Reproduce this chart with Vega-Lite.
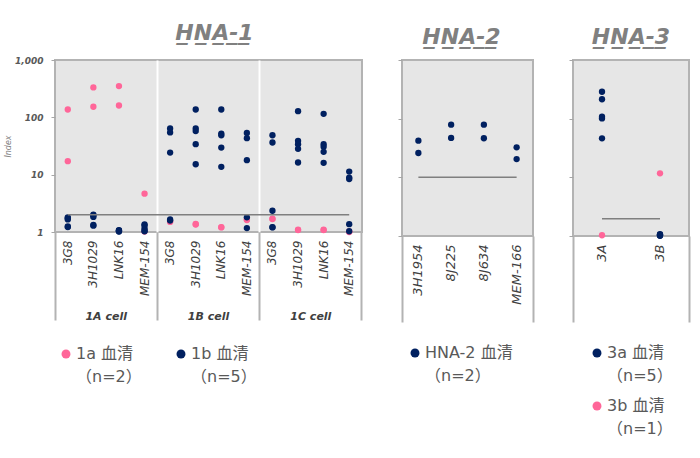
{
  "$schema": "https://vega.github.io/schema/vega-lite/v6.json",
  "padding": {"left": 3, "top": 21, "right": 5, "bottom": 5},
  "autosize": {"type": "pad"},
  "background": "white",
  "bounds": "flush",
  "spacing": 40,
  "config": {
    "view": {"fill": "#e6e6e6", "stroke": "#b3b3b3", "strokeWidth": 2},
    "font": "DejaVu Sans, Noto Sans CJK JP",
    "title": {"font": "DejaVu Sans", "fontSize": 22, "fontStyle": "italic", "fontWeight": "bold", "color": "#808080", "anchor": "middle", "baseline": "alphabetic", "offset": 11},
    "axis": {"labelFont": "DejaVu Sans", "titleFont": "DejaVu Sans", "grid": false, "domain": false, "labelOverlap": false},
    "legend": {"labelFont": "DejaVu Sans, Noto Sans CJK JP", "labelFontSize": 16, "labelColor": "#595959", "labelOffset": 2, "labelLimit": 0, "symbolType": "circle", "symbolSize": 80, "symbolStrokeWidth": 0, "symbolOpacity": 1, "title": null, "orient": "none", "padding": 0}
  },
  "resolve": {"scale": {"x": "independent", "y": "independent", "color": "independent"}, "legend": {"color": "independent"}},
  "datasets": {
    "hna1": [
      {"target": "1A|3G8", "serum": "1a 血清", "index": 137},
      {"target": "1A|3G8", "serum": "1a 血清", "index": 17.2},
      {"target": "1A|3H1029", "serum": "1a 血清", "index": 333},
      {"target": "1A|3H1029", "serum": "1a 血清", "index": 153},
      {"target": "1A|LNK16", "serum": "1a 血清", "index": 351},
      {"target": "1A|LNK16", "serum": "1a 血清", "index": 161},
      {"target": "1A|MEM-154", "serum": "1a 血清", "index": 4.67},
      {"target": "1A|MEM-154", "serum": "1a 血清", "index": 1.02},
      {"target": "1B|3G8", "serum": "1a 血清", "index": 1.55},
      {"target": "1B|3G8", "serum": "1a 血清", "index": 1.5},
      {"target": "1B|3H1029", "serum": "1a 血清", "index": 1.38},
      {"target": "1B|3H1029", "serum": "1a 血清", "index": 1.35},
      {"target": "1B|LNK16", "serum": "1a 血清", "index": 1.22},
      {"target": "1B|LNK16", "serum": "1a 血清", "index": 1.2},
      {"target": "1B|MEM-154", "serum": "1a 血清", "index": 1.66},
      {"target": "1B|MEM-154", "serum": "1a 血清", "index": 1.62},
      {"target": "1C|3G8", "serum": "1a 血清", "index": 1.71},
      {"target": "1C|3G8", "serum": "1a 血清", "index": 1.68},
      {"target": "1C|3H1029", "serum": "1a 血清", "index": 1.1},
      {"target": "1C|3H1029", "serum": "1a 血清", "index": 1.08},
      {"target": "1C|LNK16", "serum": "1a 血清", "index": 1.1},
      {"target": "1C|LNK16", "serum": "1a 血清", "index": 1.08},
      {"target": "1C|MEM-154", "serum": "1a 血清", "index": 1.02},
      {"target": "1C|MEM-154", "serum": "1a 血清", "index": 1.0},
      {"target": "1A|3G8", "serum": "1b 血清", "index": 1.8},
      {"target": "1A|3G8", "serum": "1b 血清", "index": 1.74},
      {"target": "1A|3G8", "serum": "1b 血清", "index": 1.66},
      {"target": "1A|3G8", "serum": "1b 血清", "index": 1.25},
      {"target": "1A|3G8", "serum": "1b 血清", "index": 1.22},
      {"target": "1A|3H1029", "serum": "1b 血清", "index": 2.0},
      {"target": "1A|3H1029", "serum": "1b 血清", "index": 1.94},
      {"target": "1A|3H1029", "serum": "1b 血清", "index": 1.83},
      {"target": "1A|3H1029", "serum": "1b 血清", "index": 1.33},
      {"target": "1A|3H1029", "serum": "1b 血清", "index": 1.29},
      {"target": "1A|LNK16", "serum": "1b 血清", "index": 1.08},
      {"target": "1A|LNK16", "serum": "1b 血清", "index": 1.06},
      {"target": "1A|LNK16", "serum": "1b 血清", "index": 1.05},
      {"target": "1A|LNK16", "serum": "1b 血清", "index": 1.03},
      {"target": "1A|LNK16", "serum": "1b 血清", "index": 1.02},
      {"target": "1A|MEM-154", "serum": "1b 血清", "index": 1.36},
      {"target": "1A|MEM-154", "serum": "1b 血清", "index": 1.3},
      {"target": "1A|MEM-154", "serum": "1b 血清", "index": 1.16},
      {"target": "1A|MEM-154", "serum": "1b 血清", "index": 1.05},
      {"target": "1A|MEM-154", "serum": "1b 血清", "index": 1.03},
      {"target": "1B|3G8", "serum": "1b 血清", "index": 64},
      {"target": "1B|3G8", "serum": "1b 血清", "index": 54.5},
      {"target": "1B|3G8", "serum": "1b 血清", "index": 24.3},
      {"target": "1B|3G8", "serum": "1b 血清", "index": 1.66},
      {"target": "1B|3G8", "serum": "1b 血清", "index": 1.58},
      {"target": "1B|3H1029", "serum": "1b 血清", "index": 137},
      {"target": "1B|3H1029", "serum": "1b 血清", "index": 64},
      {"target": "1B|3H1029", "serum": "1b 血清", "index": 57.5},
      {"target": "1B|3H1029", "serum": "1b 血清", "index": 34},
      {"target": "1B|3H1029", "serum": "1b 血清", "index": 15.2},
      {"target": "1B|LNK16", "serum": "1b 血清", "index": 137},
      {"target": "1B|LNK16", "serum": "1b 血清", "index": 52},
      {"target": "1B|LNK16", "serum": "1b 血清", "index": 48.7},
      {"target": "1B|LNK16", "serum": "1b 血清", "index": 29.7},
      {"target": "1B|LNK16", "serum": "1b 血清", "index": 13.7},
      {"target": "1B|MEM-154", "serum": "1b 血清", "index": 53.5},
      {"target": "1B|MEM-154", "serum": "1b 血清", "index": 43.3},
      {"target": "1B|MEM-154", "serum": "1b 血清", "index": 17.9},
      {"target": "1B|MEM-154", "serum": "1b 血清", "index": 1.8},
      {"target": "1B|MEM-154", "serum": "1b 血清", "index": 1.17},
      {"target": "1C|3G8", "serum": "1b 血清", "index": 48.7},
      {"target": "1C|3G8", "serum": "1b 血清", "index": 36.4},
      {"target": "1C|3G8", "serum": "1b 血清", "index": 2.35},
      {"target": "1C|3G8", "serum": "1b 血清", "index": 1.22},
      {"target": "1C|3G8", "serum": "1b 血清", "index": 1.2},
      {"target": "1C|3H1029", "serum": "1b 血清", "index": 128},
      {"target": "1C|3H1029", "serum": "1b 血清", "index": 38.9},
      {"target": "1C|3H1029", "serum": "1b 血清", "index": 34},
      {"target": "1C|3H1029", "serum": "1b 血清", "index": 28.2},
      {"target": "1C|3H1029", "serum": "1b 血清", "index": 16.3},
      {"target": "1C|LNK16", "serum": "1b 血清", "index": 115},
      {"target": "1C|LNK16", "serum": "1b 血清", "index": 34},
      {"target": "1C|LNK16", "serum": "1b 血清", "index": 30.6},
      {"target": "1C|LNK16", "serum": "1b 血清", "index": 25},
      {"target": "1C|LNK16", "serum": "1b 血清", "index": 16.1},
      {"target": "1C|MEM-154", "serum": "1b 血清", "index": 11.3},
      {"target": "1C|MEM-154", "serum": "1b 血清", "index": 8.9},
      {"target": "1C|MEM-154", "serum": "1b 血清", "index": 8.4},
      {"target": "1C|MEM-154", "serum": "1b 血清", "index": 1.37},
      {"target": "1C|MEM-154", "serum": "1b 血清", "index": 1.03}
    ],
    "hna2": [
      {"target": "3H1954", "serum": "HNA-2 血清", "index": 42.2},
      {"target": "3H1954", "serum": "HNA-2 血清", "index": 26},
      {"target": "8J225", "serum": "HNA-2 血清", "index": 79},
      {"target": "8J225", "serum": "HNA-2 血清", "index": 46.9},
      {"target": "8J634", "serum": "HNA-2 血清", "index": 79},
      {"target": "8J634", "serum": "HNA-2 血清", "index": 46.4},
      {"target": "MEM-166", "serum": "HNA-2 血清", "index": 32.5},
      {"target": "MEM-166", "serum": "HNA-2 血清", "index": 20.5}
    ],
    "hna3": [
      {"target": "3A", "serum": "3b 血清", "index": 1.03},
      {"target": "3B", "serum": "3b 血清", "index": 11.7},
      {"target": "3A", "serum": "3a 血清", "index": 288},
      {"target": "3A", "serum": "3a 血清", "index": 214},
      {"target": "3A", "serum": "3a 血清", "index": 108},
      {"target": "3A", "serum": "3a 血清", "index": 101},
      {"target": "3A", "serum": "3a 血清", "index": 46.2},
      {"target": "3B", "serum": "3a 血清", "index": 1.07},
      {"target": "3B", "serum": "3a 血清", "index": 1.05},
      {"target": "3B", "serum": "3a 血清", "index": 1.04},
      {"target": "3B", "serum": "3a 血清", "index": 1.02},
      {"target": "3B", "serum": "3a 血清", "index": 1.01}
    ]
  },
  "hconcat": [
    {
      "width": 307,
      "height": 172,
      "title": {"text": "H\u0332N\u0332A\u0332-\u03321\u0332", "dx": 6},
      "resolve": {"axis": {"x": "independent"}},
      "layer": [
        {
          "data": {"name": "hna1"},
          "mark": {"type": "point", "filled": true, "size": 40, "opacity": 1},
          "encoding": {
            "x": {
              "field": "target", "type": "nominal",
              "scale": {"type": "band", "paddingInner": 0, "paddingOuter": 0,
                "domain": ["1A|3G8", "1A|3H1029", "1A|LNK16", "1A|MEM-154", "1B|3G8", "1B|3H1029", "1B|LNK16", "1B|MEM-154", "1C|3G8", "1C|3H1029", "1C|LNK16", "1C|MEM-154"]},
              "axis": {
                "orient": "bottom", "title": null,
                "values": ["1A|3G8", "1A|3H1029", "1A|LNK16", "1A|MEM-154", "1B|3G8", "1B|3H1029", "1B|LNK16", "1B|MEM-154", "1C|3G8", "1C|3H1029", "1C|LNK16", "1C|MEM-154"],
                "labelExpr": "split(datum.value, '|')[1]",
                "labelAngle": -90, "labelFontSize": 12, "labelFontStyle": "italic", "labelColor": "#404040", "labelPadding": -80,
                "bandPosition": 1, "tickExtra": true, "tickSize": 88, "tickWidth": 2, "tickColor": "#b3b3b3",
                "tickOpacity": {"condition": {"test": "datum.extra || datum.value == '1A|MEM-154' || datum.value == '1B|MEM-154' || datum.value == '1C|MEM-154'", "value": 1}, "value": 0},
                "grid": true, "gridWidth": 2,
                "gridColor": {"condition": {"test": "!datum.extra && (datum.value == '1A|MEM-154' || datum.value == '1B|MEM-154')", "value": "#ffffff"}, "value": "transparent"}
              }
            },
            "y": {
              "field": "index", "type": "quantitative",
              "scale": {"type": "log", "domain": [1, 1000]},
              "axis": {"title": "Index", "titleFontSize": 8, "titleFontStyle": "italic", "titleFontWeight": "normal", "titleColor": "#7f7f7f", "titlePadding": 2,
                "values": [1, 10, 100, 1000], "format": ",", "labelFontSize": 9, "labelFontWeight": "bold", "labelFontStyle": "italic", "labelColor": "#595959", "labelPadding": 8,
                "tickSize": 4, "tickColor": "#a6a6a6"}
            },
            "color": {
              "field": "serum", "type": "nominal",
              "scale": {"domain": ["1a 血清", "1b 血清"], "range": ["#ff6699", "#002060"]},
              "legend": {"direction": "horizontal", "legendX": 3, "legendY": 286, "columnPadding": 31,
                "labelExpr": "[datum.label, datum.label == '1a 血清' ? '（n=2）' : '（n=5）']",
                "encode": {"labels": {"update": {"lineHeight": {"value": 23}}}}}
            }
          }
        },
        {
          "data": {"values": [{"from": "1A|3G8", "to": "1C|MEM-154", "level": 2}]},
          "mark": {"type": "rule", "color": "#7f7f7f", "strokeWidth": 1.5},
          "encoding": {
            "x": {"field": "from", "type": "nominal", "bandPosition": 0.5,
              "axis": {"orient": "bottom", "title": null, "values": ["1A|3H1029", "1B|3H1029", "1C|3H1029"],
                "labelExpr": "split(datum.value, '|')[0] + ' cell'", "labelAngle": 0, "labelOffset": 12.8, "labelPadding": 78,
                "ticks": false, "tickSize": 0, "grid": false,
                "labelFontSize": 11, "labelFontWeight": "bold", "labelFontStyle": "italic", "labelColor": "#404040"}},
            "x2": {"field": "to"},
            "y": {"field": "level", "type": "quantitative"}
          }
        }
      ]
    },
    {
      "width": 131,
      "height": 176,
      "title": {"text": "H\u0332N\u0332A\u0332-\u03322\u0332", "dx": -6},
      "layer": [
        {
          "data": {"name": "hna2"},
          "mark": {"type": "point", "filled": true, "size": 40, "opacity": 1},
          "encoding": {
            "x": {
              "field": "target", "type": "nominal",
              "scale": {"type": "band", "paddingInner": 0, "paddingOuter": 0, "domain": ["3H1954", "8J225", "8J634", "MEM-166"]},
              "axis": {
                "orient": "bottom", "title": null,
                "labelAngle": -90, "labelFontSize": 13, "labelFontStyle": "italic", "labelColor": "#404040", "labelPadding": -78,
                "bandPosition": 1, "tickExtra": true, "tickSize": 86, "tickWidth": 2, "tickColor": "#b3b3b3",
                "tickOpacity": {"condition": {"test": "datum.extra || datum.value == 'MEM-166'", "value": 1}, "value": 0}
              }
            },
            "y": {
              "field": "index", "type": "quantitative",
              "scale": {"type": "log", "domain": [1, 1000]},
              "axis": {"title": null, "labels": false, "values": [1, 10, 100, 1000], "tickSize": 4, "tickColor": "#a6a6a6"}
            },
            "color": {
              "field": "serum", "type": "nominal",
              "scale": {"domain": ["HNA-2 血清"], "range": ["#002060"]},
              "legend": {"direction": "vertical", "legendX": 5, "legendY": 285,
                "labelExpr": "[datum.label, '（n=2）']",
                "encode": {"labels": {"update": {"lineHeight": {"value": 23}}}}}
            }
          }
        },
        {
          "data": {"values": [{"from": "3H1954", "to": "MEM-166", "level": 10}]},
          "mark": {"type": "rule", "color": "#7f7f7f", "strokeWidth": 1.5},
          "encoding": {
            "x": {"field": "from", "type": "nominal", "bandPosition": 0.5},
            "x2": {"field": "to"},
            "y": {"field": "level", "type": "quantitative"}
          }
        }
      ]
    },
    {
      "width": 116,
      "height": 176,
      "title": {"text": "H\u0332N\u0332A\u0332-\u03323\u0332"},
      "layer": [
        {
          "data": {"name": "hna3"},
          "mark": {"type": "point", "filled": true, "size": 40, "opacity": 1},
          "encoding": {
            "x": {
              "field": "target", "type": "nominal",
              "scale": {"type": "band", "paddingInner": 0, "paddingOuter": 0, "domain": ["3A", "3B"]},
              "axis": {
                "orient": "bottom", "title": null,
                "labelAngle": -90, "labelFontSize": 13, "labelFontStyle": "italic", "labelColor": "#404040", "labelPadding": -78,
                "bandPosition": 1, "tickExtra": true, "tickSize": 86, "tickWidth": 2, "tickColor": "#b3b3b3",
                "tickOpacity": {"condition": {"test": "datum.extra || datum.value == '3B'", "value": 1}, "value": 0}
              }
            },
            "y": {
              "field": "index", "type": "quantitative",
              "scale": {"type": "log", "domain": [1, 1000]},
              "axis": {"title": null, "labels": false, "values": [1, 10, 100, 1000], "tickSize": 4, "tickColor": "#a6a6a6"}
            },
            "color": {
              "field": "serum", "type": "nominal",
              "scale": {"domain": ["3a 血清", "3b 血清"], "range": ["#002060", "#ff6699"]},
              "legend": {"direction": "vertical", "legendX": 16, "legendY": 285, "rowPadding": 14,
                "labelExpr": "[datum.label, datum.label == '3a 血清' ? '（n=5）' : '（n=1）']",
                "encode": {"labels": {"update": {"lineHeight": {"value": 23}}}}}
            }
          }
        },
        {
          "data": {"values": [{"from": "3A", "to": "3B", "level": 1.97}]},
          "mark": {"type": "rule", "color": "#7f7f7f", "strokeWidth": 1.5},
          "encoding": {
            "x": {"field": "from", "type": "nominal", "bandPosition": 0.5},
            "x2": {"field": "to"},
            "y": {"field": "level", "type": "quantitative"}
          }
        }
      ]
    }
  ]
}
